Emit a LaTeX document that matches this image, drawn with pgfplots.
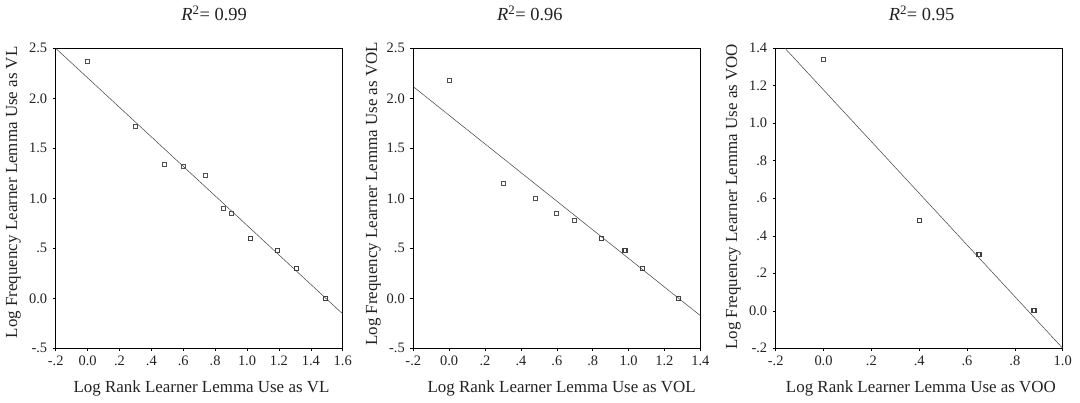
\documentclass[border=0pt]{standalone}
\usepackage{fontspec}
\setmainfont{Liberation Serif}
\usepackage{pgfplots}
\pgfplotsset{compat=1.18}
\definecolor{mk}{HTML}{505050}
\definecolor{ln}{HTML}{404040}
\definecolor{tx}{HTML}{222222}
\begin{document}
\begin{tikzpicture}
\pgfplotsset{
 panel/.style={
  width=287bp, height=300bp, scale only axis,
  anchor=south west,
  axis line style={black, line width=0.7pt},
  tick style={black, line width=0.6pt},
  tick align=outside, major tick length=3bp,
  xtick pos=lower, ytick pos=left,
  ticklabel style={font=\fontsize{14.5}{14.5}\selectfont, text=tx},
  xticklabel style={yshift=-1bp},
  yticklabel style={xshift=-2bp},
  clip=false,
  every axis title/.style={font=\fontsize{18.5}{18.5}\selectfont, anchor=center, text=tx},
  every axis x label/.style={font=\fontsize{17}{17}\selectfont, anchor=center, text=tx, yshift=-40bp},
  every axis y label/.style={font=\fontsize{17}{17}\selectfont, anchor=center, text=tx, rotate=90},
 },
 pts/.style={only marks, mark=square, mark size=2bp, mk, mark options={line width=0.7pt}},
 bpts/.style={only marks, mark=square, mark size=2bp, mk!80!black, mark options={line width=1.1pt}},
 fit/.style={no marks, ln, line width=0.5pt},
}
% Panel 1
\begin{axis}[panel, at={(0bp,0bp)},
  xmin=-0.2, xmax=1.6, ymin=-0.5, ymax=2.5,
  xtick={-0.2,0,0.2,0.4,0.6,0.8,1.0,1.2,1.4,1.6},
  xticklabels={-.2,0.0,.2,.4,.6,.8,1.0,1.2,1.4,1.6},
  ytick={-0.5,0,0.5,1,1.5,2,2.5},
  yticklabels={-.5,0.0,.5,1.0,1.5,2.0,2.5},
  title={\textit{R}\textsuperscript{2}= 0.99},
  title style={at={(rel axis cs:0.552,1)}, yshift=35bp},
  xlabel={Log Rank Learner Lemma Use as VL},
  xlabel style={at={(rel axis cs:0.508,0)}},
  ylabel={Log Frequency Learner Lemma Use as VL},
  ylabel style={at={(rel axis cs:0,0.52)}, yshift=42.4bp},
]
\addplot[fit] coordinates {(-0.2,2.5) (1.6,-0.156)};
\addplot[pts] coordinates {(0,2.37) (0.30,1.72) (0.48,1.34) (0.60,1.32) (0.74,1.23) (0.85,0.90) (0.90,0.85)};
\addplot[bpts] coordinates {(1.02,0.60) (1.19,0.48) (1.31,0.30) (1.49,0)};
\end{axis}
% Panel 2
\begin{axis}[panel, at={(357.6bp,0bp)},
  xmin=-0.2, xmax=1.4, ymin=-0.5, ymax=2.5,
  xtick={-0.2,0,0.2,0.4,0.6,0.8,1.0,1.2,1.4},
  xticklabels={-.2,0.0,.2,.4,.6,.8,1.0,1.2,1.4},
  ytick={-0.5,0,0.5,1,1.5,2,2.5},
  yticklabels={-.5,0.0,.5,1.0,1.5,2.0,2.5},
  title={\textit{R}\textsuperscript{2}= 0.96},
  title style={at={(rel axis cs:0.406,1)}, yshift=35bp},
  xlabel={Log Rank Learner Lemma Use as VOL},
  xlabel style={at={(rel axis cs:0.517,0)}},
  ylabel={Log Frequency Learner Lemma Use as VOL},
  ylabel style={at={(rel axis cs:0,0.515)}, yshift=40bp},
]
\addplot[fit] coordinates {(-0.2,2.116) (1.4,-0.173)};
\addplot[pts] coordinates {(0,2.18) (0.30,1.15) (0.48,1.0) (0.60,0.85) (0.70,0.78)};
\addplot[bpts] coordinates {(0.85,0.60) (0.98,0.48) (1.08,0.30) (1.28,0)};
\end{axis}
% Panel 3
\begin{axis}[panel, at={(720bp,0bp)},
  xmin=-0.2, xmax=1.0, ymin=-0.2, ymax=1.4,
  xtick={-0.2,0,0.2,0.4,0.6,0.8,1.0},
  xticklabels={-.2,0.0,.2,.4,.6,.8,1.0},
  ytick={-0.2,0,0.2,0.4,0.6,0.8,1.0,1.2,1.4},
  yticklabels={-.2,0.0,.2,.4,.6,.8,1.0,1.2,1.4},
  title={\textit{R}\textsuperscript{2}= 0.95},
  title style={at={(rel axis cs:0.508,1)}, yshift=35bp},
  xlabel={Log Rank Learner Lemma Use as VOO},
  xlabel style={at={(rel axis cs:0.506,0)}},
  ylabel={Log Frequency Learner Lemma Use as VOO},
  ylabel style={at={(rel axis cs:0,0.505)}, yshift=42.4bp},
]
\addplot[fit] coordinates {(-0.161,1.4) (1.0,-0.2)};
\addplot[pts] coordinates {(0,1.34)};
\addplot[bpts] coordinates {(0.40,0.48) (0.65,0.30) (0.88,0)};
\end{axis}
\pgfresetboundingbox
\useasboundingbox (-55.7bp,-54.3bp) rectangle (1024.3bp,348.3bp);
\end{tikzpicture}
\end{document}
